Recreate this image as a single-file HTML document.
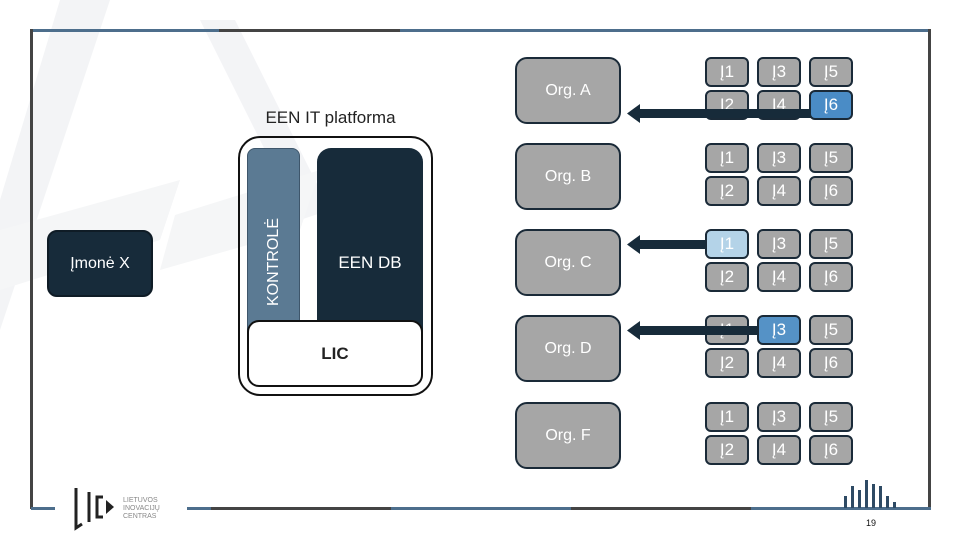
<!DOCTYPE html>
<html><head><meta charset="utf-8"><style>
body{margin:0;width:960px;height:540px;position:relative;background:#fff;font-family:"Liberation Sans",sans-serif;overflow:hidden}
.a{position:absolute;box-sizing:border-box}
.org{background:#a6a6a6;border:2px solid #1a2a38;border-radius:12px;width:106px;height:67px;color:#fff;font-size:16px;display:flex;align-items:center;justify-content:center}
.j{background:#a6a6a6;border:2px solid #1a2a38;border-radius:6px;width:44px;height:30px;color:#fff;font-size:17px;display:flex;align-items:center;justify-content:center;font-weight:300}
.ln{position:absolute;height:3px}
</style></head><body>
<svg class="a" style="left:0;top:0" width="960" height="540">
<polygon points="60,0 110,0 0,330 0,200" fill="#f3f4f6"/>
<polygon points="200,20 235,20 330,210 300,220" fill="#f3f4f6"/>
<polygon points="0,230 180,180 160,240 0,290" fill="#f5f6f7"/>
<polygon points="175,215 320,170 300,230 160,270" fill="#f5f6f7"/>
</svg>
<!-- frame -->
<div class="ln" style="left:31px;top:29px;width:188px;background:#4d6e8c"></div>
<div class="ln" style="left:219px;top:29px;width:181px;background:#444"></div>
<div class="ln" style="left:400px;top:29px;width:531px;background:#4d6e8c"></div>
<div class="a" style="left:30px;top:29px;width:3px;height:480px;background:#444"></div>
<div class="a" style="left:928px;top:29px;width:3px;height:480px;background:#444"></div>
<div class="ln" style="left:31px;top:507px;width:24px;background:#4d6e8c"></div>
<div class="ln" style="left:187px;top:507px;width:24px;background:#4d6e8c"></div>
<div class="ln" style="left:211px;top:507px;width:180px;background:#444"></div>
<div class="ln" style="left:391px;top:507px;width:180px;background:#4d6e8c"></div>
<div class="ln" style="left:571px;top:507px;width:180px;background:#444"></div>
<div class="ln" style="left:751px;top:507px;width:180px;background:#4d6e8c"></div>
<!-- logo -->
<svg class="a" style="left:70px;top:484px" width="50" height="48">
<path d="M6 4 V44 L12 40" stroke="#222" stroke-width="3" fill="none"/>
<path d="M19 8 V38" stroke="#222" stroke-width="3"/>
<path d="M33 13 H27 V33 H33" stroke="#222" stroke-width="3" fill="none"/>
<polygon points="36,16 44,23 36,30" fill="#222"/>
</svg>
<div class="a" style="left:123px;top:497px;font-size:7px;line-height:8px;color:#888">LIETUVOS<br>INOVACIJŲ<br>CENTRAS</div>
<svg class="a" style="left:840px;top:476px" width="60" height="32">
<g fill="#2e4a64"><rect x="4" y="20" width="3" height="12"/><rect x="11" y="10" width="3" height="22"/><rect x="18" y="14" width="3" height="18"/><rect x="25" y="4" width="3" height="28"/><rect x="32" y="8" width="3" height="24"/><rect x="39" y="10" width="3" height="22"/><rect x="46" y="20" width="3" height="12"/><rect x="53" y="26" width="3" height="6"/></g>
</svg>
<div class="a" style="left:866px;top:518px;font-size:9px;color:#111">19</div>
<!-- left diagram -->
<div class="a" style="left:47px;top:230px;width:106px;height:67px;background:#172b3a;border:2px solid #0f1c26;border-radius:10px;color:#fff;font-size:16px;display:flex;align-items:center;justify-content:center;font-weight:300">Įmonė X</div>
<div class="a" style="left:238px;top:108px;width:185px;text-align:center;font-size:17px;color:#222">EEN IT platforma</div>
<div class="a" style="left:238px;top:136px;width:195px;height:260px;border:2px solid #111;border-radius:22px"></div>
<div class="a" style="left:247px;top:148px;width:53px;height:185px;background:#5b7a93;border:1px solid #3e566b;border-radius:8px 8px 0 0"></div>
<div class="a" style="left:274px;top:262px;transform:translate(-50%,-50%) rotate(-90deg);color:#fff;font-size:16px;white-space:nowrap;font-weight:300">KONTROLĖ</div>
<div class="a" style="left:317px;top:148px;width:106px;height:185px;background:#172b3a;border-radius:14px 14px 0 0"></div>
<div class="a" style="left:317px;top:253px;width:106px;text-align:center;color:#fff;font-size:17px">EEN DB</div>
<div class="a" style="left:247px;top:320px;width:176px;height:67px;background:#fff;border:2px solid #111;border-radius:12px;font-weight:bold;font-size:17px;display:flex;align-items:center;justify-content:center;color:#222">LIC</div>
<!-- orgs -->
<div class="a org" style="left:515px;top:57px">Org. A</div>
<div class="a org" style="left:515px;top:143px">Org. B</div>
<div class="a org" style="left:515px;top:229px">Org. C</div>
<div class="a org" style="left:515px;top:315px">Org. D</div>
<div class="a org" style="left:515px;top:402px">Org. F</div>
<!-- J grids -->
<div class="a j" style="left:705px;top:57px">Į1</div><div class="a j" style="left:757px;top:57px">Į3</div><div class="a j" style="left:809px;top:57px">Į5</div>
<div class="a j" style="left:705px;top:90px">Į2</div><div class="a j" style="left:757px;top:90px">Į4</div><div class="a j" style="left:809px;top:90px;background:#4a8cc6">Į6</div>
<div class="a j" style="left:705px;top:143px">Į1</div><div class="a j" style="left:757px;top:143px">Į3</div><div class="a j" style="left:809px;top:143px">Į5</div>
<div class="a j" style="left:705px;top:176px">Į2</div><div class="a j" style="left:757px;top:176px">Į4</div><div class="a j" style="left:809px;top:176px">Į6</div>
<div class="a j" style="left:705px;top:229px;background:#b4d3e8">Į1</div><div class="a j" style="left:757px;top:229px">Į3</div><div class="a j" style="left:809px;top:229px">Į5</div>
<div class="a j" style="left:705px;top:262px">Į2</div><div class="a j" style="left:757px;top:262px">Į4</div><div class="a j" style="left:809px;top:262px">Į6</div>
<div class="a j" style="left:705px;top:315px">Į1</div><div class="a j" style="left:757px;top:315px;background:#5592c6">Į3</div><div class="a j" style="left:809px;top:315px">Į5</div>
<div class="a j" style="left:705px;top:348px">Į2</div><div class="a j" style="left:757px;top:348px">Į4</div><div class="a j" style="left:809px;top:348px">Į6</div>
<div class="a j" style="left:705px;top:402px">Į1</div><div class="a j" style="left:757px;top:402px">Į3</div><div class="a j" style="left:809px;top:402px">Į5</div>
<div class="a j" style="left:705px;top:435px">Į2</div><div class="a j" style="left:757px;top:435px">Į4</div><div class="a j" style="left:809px;top:435px">Į6</div>
<!-- arrows -->
<svg class="a" style="left:0;top:0" width="960" height="540">
<g fill="#172b3a">
<rect x="636" y="109" width="175" height="9"/><polygon points="627,113.5 640,104 640,123"/>
<rect x="636" y="240" width="70" height="9"/><polygon points="627,244.5 640,235 640,254"/>
<rect x="636" y="326" width="122" height="9"/><polygon points="627,330.5 640,321 640,340"/>
</g>
</svg>
</body></html>
